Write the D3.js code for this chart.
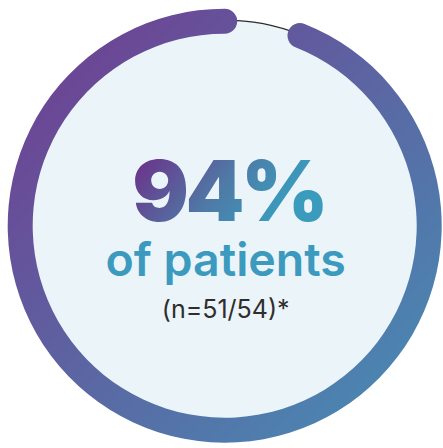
<!DOCTYPE html>
<html lang="en">
<head>
<meta charset="UTF-8">
<title>94% of patients</title>
<script src="https://cdn.jsdelivr.net/npm/d3@7"></script>
<style>
  html, body { margin: 0; padding: 0; background: #fff; }
</style>
</head>
<body>
<div id="chart"></div>
<script>
    // data
    const share = [94];                 // percent of patients
    const counts = [51, 54];            // n / total
    const labels = ["of patients"];

    var width = 443, height = 448;
    var cx = 224.7, cy = 225.7;
    var ringR = 204.5, ringW = 25;

    var svg = d3.select("#chart")
        .append("svg")
        .attr("width", width)
        .attr("height", height);

    var defs = svg.append("defs");

    var ringGrad = defs.append("linearGradient")
        .attr("id", "ringGrad")
        .attr("x1", "0").attr("y1", "0")
        .attr("x2", "1").attr("y2", "1");
    ringGrad.append("stop").attr("offset", "0%").attr("stop-color", "#723a90");
    ringGrad.append("stop").attr("offset", "100%").attr("stop-color", "#4590b5");

    var textGrad = defs.append("linearGradient")
        .attr("id", "textGrad")
        .attr("x1", "0").attr("y1", "0")
        .attr("x2", "1").attr("y2", "0.4");
    textGrad.append("stop").attr("offset", "5%").attr("stop-color", "#6e2c87");
    textGrad.append("stop").attr("offset", "55%").attr("stop-color", "#4f79a6");
    textGrad.append("stop").attr("offset", "90%").attr("stop-color", "#3a9bbc");

    var g = svg.append("g")
        .attr("transform", "translate(" + cx + "," + cy + ")");

    // background disc with thin outline (shows in the gap)
    g.append("circle")
        .attr("r", ringR + 1)
        .attr("fill", "#ebf4f8")
        .attr("stroke", "#2b2b2b")
        .attr("stroke-width", 1.2);

    // percent -> angle
    var angle = d3.scaleLinear()
        .domain([0, 100])
        .range([0, 2 * Math.PI]);

    // thick ring with round ends; caps stick out past the arc like round linecaps
    var cap = (ringW / 2) / ringR;
    var arc = d3.arc()
        .innerRadius(ringR - ringW / 2)
        .outerRadius(ringR + ringW / 2)
        .cornerRadius(ringW / 2);

    g.selectAll(".ring")
        .data(share)
        .enter()
        .append("path")
        .attr("class", "ring")
        .attr("d", d => arc({startAngle: angle(100 - d) - cap, endAngle: angle(100) + cap}))
        .attr("fill", "url(#ringGrad)");

    // big number
    g.selectAll(".big")
        .data(share)
        .enter()
        .append("text")
        .attr("class", "big")
        .attr("x", 4)
        .attr("y", -5)
        .attr("text-anchor", "middle")
        .attr("font-family", "Inter, 'Noto Sans', sans-serif")
        .attr("font-weight", 900)
        .attr("font-size", 84)
        .attr("letter-spacing", -3.5)
        .attr("fill", "url(#textGrad)")
        .text(d => d + "%");

    g.append("text")
        .attr("x", 1)
        .attr("y", 50)
        .attr("text-anchor", "middle")
        .attr("font-family", "Inter, 'Noto Sans', sans-serif")
        .attr("font-weight", 600)
        .attr("font-size", 46.5)
        .attr("fill", "#3b9abd")
        .text(labels[0]);

    g.append("text")
        .attr("x", 1)
        .attr("y", 92)
        .attr("text-anchor", "middle")
        .attr("font-family", "Inter, 'Noto Sans', sans-serif")
        .attr("font-weight", 400)
        .attr("font-size", 25)
        .attr("fill", "#2e2e2e")
        .text("(n=" + counts[0] + "/" + counts[1] + ")*");
</script>
</body>
</html>
